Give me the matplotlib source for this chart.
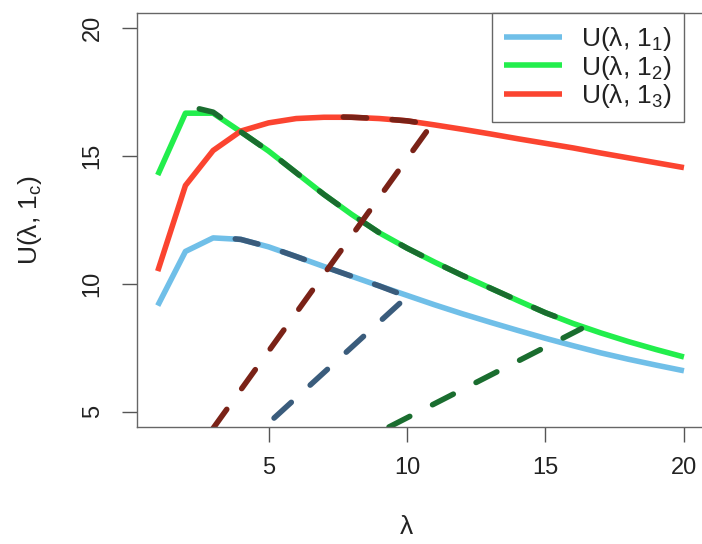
import matplotlib
matplotlib.use('Agg')
import matplotlib.pyplot as plt

plt.rcParams['font.family'] = ['Liberation Sans', 'DejaVu Sans']
plt.rcParams['mathtext.fontset'] = 'custom'
plt.rcParams['mathtext.rm'] = 'Liberation Sans'
plt.rcParams['mathtext.it'] = 'Liberation Sans:italic'

# values
lam = list(range(1, 21))
u1 = [9.15, 11.27, 11.8, 11.74, 11.45, 11.07, 10.68, 10.3, 9.92, 9.55,
      9.18, 8.83, 8.5, 8.18, 7.87, 7.58, 7.3, 7.05, 6.82, 6.6]
u2 = [14.26, 16.68, 16.68, 15.95, 15.2, 14.35, 13.5, 12.72, 12.0, 11.4,
      10.85, 10.33, 9.84, 9.35, 8.87, 8.45, 8.08, 7.74, 7.43, 7.14]
u3 = [10.5, 13.85, 15.22, 15.98, 16.3, 16.47, 16.52, 16.52, 16.47, 16.38,
      16.22, 16.05, 15.87, 15.68, 15.5, 15.32, 15.12, 14.93, 14.74, 14.55]

# dashed overlays: part of each curve + a straight line
d1_x = [3.8, 4, 5, 6, 7, 8, 9, 9.7]
d1_y = [11.76, 11.74, 11.45, 11.07, 10.68, 10.3, 9.92, 9.63]
l1_x = [5.2, 9.8]
l1_y = [4.75, 9.3]

d2_x = [2.5, 3, 4, 5, 6, 7, 8, 9, 10, 11, 12, 13, 14, 15, 15.9]
d2_y = [16.85, 16.72, 15.95, 15.2, 14.35, 13.5, 12.72, 12.0, 11.4, 10.85,
        10.33, 9.84, 9.35, 8.87, 8.5]
l2_x = [9.35, 16.3]
l2_y = [4.4, 8.25]

d3_x = [7.7, 8, 9, 10, 10.5]
d3_y = [16.53, 16.52, 16.47, 16.38, 16.3]
l3_x = [3.0, 10.7]
l3_y = [4.35, 15.95]

labels = [r'U(λ, 1$_\mathregular{1}$)', r'U(λ, 1$_\mathregular{2}$)', r'U(λ, 1$_\mathregular{3}$)']
colors = ['#70bfe8', '#22ee4c', '#fb4430']
dark = ['#3a5c7c', '#1a6d2f', '#7a2217']

fig = plt.figure(figsize=(7.02, 5.44), dpi=100)
ax = fig.add_axes([136.7 / 702, 1 - 427 / 544, (705 - 136.7) / 702, (427 - 13) / 544])

for y, c, lab in zip([u1, u2, u3], colors, labels):
    ax.plot(lam, y, color=c, lw=4, label=lab, solid_capstyle='butt')

dash_kw = dict(lw=4, ls=(0, (4.2, 4.6)), dash_capstyle='round')
for (dx, dy, lx, ly), c in zip([(d1_x, d1_y, l1_x, l1_y),
                                (d2_x, d2_y, l2_x, l2_y),
                                (d3_x, d3_y, l3_x, l3_y)], dark):
    ax.plot(dx, dy, color=c, **dash_kw)
    ax.plot(lx, ly, color=c, **dash_kw)

ax.set_xlim(0.24, 20.76)
ax.set_ylim(4.4, 20.6)
ax.set_xticks([5, 10, 15, 20])
ax.set_yticks([5, 10, 15, 20])
ax.tick_params(length=10.8, width=1, color='#555555', labelsize=17,
               labelcolor='#222222')
ax.tick_params(axis='x', pad=11)
ax.tick_params(axis='y', pad=13)
for t in ax.get_yticklabels():
    t.set_rotation(90)
    t.set_va('center')
for s in ax.spines.values():
    s.set_color('#666666')
    s.set_linewidth(1)

ax.set_xlabel('λ', fontsize=19, color='#222222')
ax.set_ylabel(r'U(λ, 1$_\mathregular{c}$)', fontsize=19, color='#222222')
ax.xaxis.set_label_coords((406 - 136.7) / 568.3, (427 - 527) / 414)
ax.xaxis.label.set_va('center')
ax.yaxis.set_label_coords((30 - 136.7) / 568.3, 0.5)
ax.yaxis.label.set_va('center')

leg = ax.legend(loc='upper right', bbox_to_anchor=((684 - 136.7) / 568.3, 1.0),
                borderaxespad=0, fontsize=19, fancybox=False, framealpha=1,
                edgecolor='#666666', handlelength=2.2, handletextpad=0.72,
                labelspacing=0.03, borderpad=0.45)
leg.get_frame().set_linewidth(1)
for t in leg.get_texts():
    t.set_color('#222222')

fig.savefig('out.png', dpi=100)
